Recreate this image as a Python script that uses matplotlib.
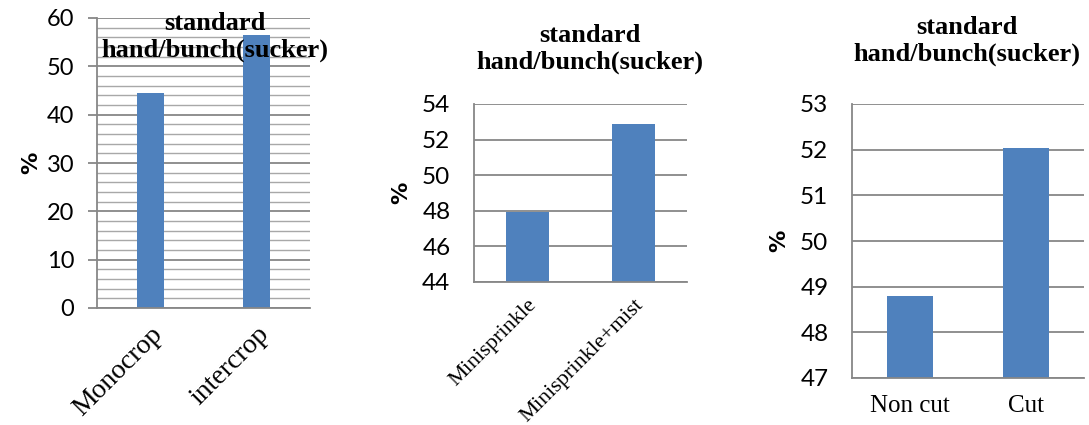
import matplotlib
matplotlib.use('Agg')
import matplotlib.pyplot as plt
from matplotlib.ticker import MultipleLocator

# data
crop_labels = ['Monocrop', 'intercrop']
crop_values = [44.4, 56.4]

irr_labels = ['Minisprinkle', 'Minisprinkle+mist']
irr_values = [47.95, 52.9]

cut_labels = ['Non cut', 'Cut']
cut_values = [48.8, 52.03]

title = 'standard\nhand/bunch(sucker)'
bar_color = '#4F81BD'
grid_color = '#878787'

W, H = 1089, 425
fig = plt.figure(figsize=(W / 100, H / 100), dpi=100)


def px_axes(x0, y0, x1, y1):
    # pixel box (top-left origin) -> figure fraction
    return fig.add_axes([x0 / W, 1 - y1 / H, (x1 - x0) / W, (y1 - y0) / H])


def style(ax, ylim, step, tick_size, minor=None, outward=False, ylab_pad=12):
    ax.set_ylim(*ylim)
    ax.set_xlim(-0.5, 1.5)
    ax.yaxis.set_major_locator(MultipleLocator(step))
    ax.set_axisbelow(True)
    ax.grid(axis='y', which='major', color=grid_color, linewidth=1.3)
    if minor:
        ax.yaxis.set_minor_locator(MultipleLocator(minor))
        ax.grid(axis='y', which='minor', color='#A8A8A8', linewidth=1.0)
        ax.tick_params(axis='y', which='minor', length=0)
    for s in ['top', 'right']:
        ax.spines[s].set_visible(False)
    ax.spines['left'].set_color(grid_color)
    ax.spines['bottom'].set_color(grid_color)
    ax.spines['left'].set_linewidth(1.3)
    ax.spines['bottom'].set_linewidth(1.3)
    if outward:
        ax.tick_params(axis='y', which='major', length=6.5, color=grid_color, width=1.3,
                       labelsize=tick_size, pad=10)
    else:
        ax.tick_params(axis='y', which='major', length=0, labelsize=tick_size, pad=17)
    ax.tick_params(axis='x', length=0)
    for t in ax.get_yticklabels():
        t.set_fontfamily('Lato')
    ax.set_ylabel('%', fontfamily='DejaVu Sans', fontweight='bold', fontsize=16, labelpad=ylab_pad)


# panel 1
ax1 = px_axes(97, 18, 310, 308)
ax1.bar(range(2), crop_values, width=0.25, color=bar_color)
style(ax1, (0, 60), 10, 17, minor=2, outward=True, ylab_pad=4)
ax1.set_xticks(range(2))
ax1.set_xticklabels(crop_labels, rotation=45, ha='right', rotation_mode='anchor',
                    fontfamily='Liberation Serif', fontsize=20)
ax1.tick_params(axis='x', pad=10)
fig.text(215 / W, 1 - 37 / H, title, ha='center', va='center', fontfamily='Liberation Serif',
         fontweight='bold', fontsize=19, linespacing=1.25)

# panel 2
ax2 = px_axes(474, 104, 687, 282)
ax2.bar(range(2), irr_values, width=0.4, color=bar_color)
style(ax2, (44, 54), 2, 17.5, ylab_pad=8)
ax2.set_xticks(range(2))
ax2.set_xticklabels(irr_labels, rotation=45, ha='right', rotation_mode='anchor',
                    fontfamily='Liberation Serif', fontsize=16)
ax2.tick_params(axis='x', pad=10)
fig.text(590 / W, 1 - 49 / H, title, ha='center', va='center', fontfamily='Liberation Serif',
         fontweight='bold', fontsize=19, linespacing=1.25)

# panel 3
ax3 = px_axes(852, 104, 1084, 378)
ax3.bar(range(2), cut_values, width=0.4, color=bar_color)
style(ax3, (47, 53), 1, 17.5, ylab_pad=8)
ax3.set_xticks(range(2))
ax3.set_xticklabels(cut_labels, fontfamily='Liberation Serif', fontsize=18)
ax3.tick_params(axis='x', pad=12)
fig.text(967 / W, 1 - 41 / H, title, ha='center', va='center', fontfamily='Liberation Serif',
         fontweight='bold', fontsize=19, linespacing=1.25)

fig.savefig('out.png', dpi=100)
plt.close(fig)
